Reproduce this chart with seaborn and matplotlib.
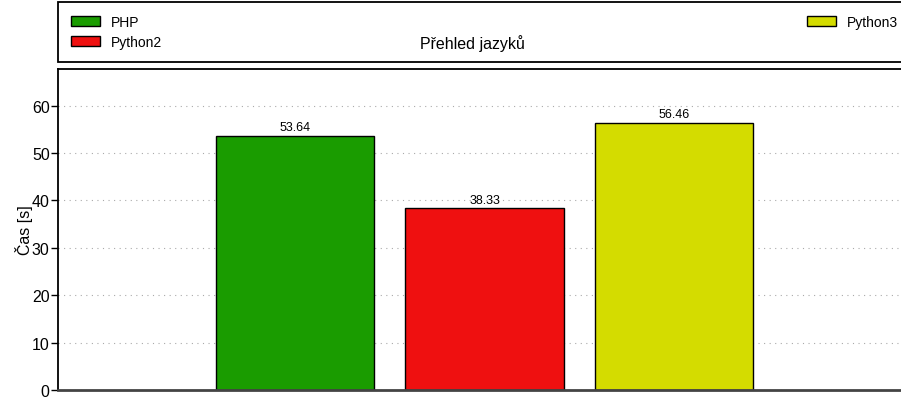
import matplotlib
matplotlib.use('Agg')
import matplotlib.pyplot as plt
import seaborn as sns

# chart data
langs = ['PHP', 'Python2', 'Python3']
times = [53.64, 38.33, 56.46]
colors = ['#1a9c00', '#ef1010', '#d4dc00']

sns.set_style('white')
plt.rcParams['font.family'] = ['Liberation Sans', 'DejaVu Sans']
plt.rcParams['text.color'] = 'black'
plt.rcParams['axes.labelcolor'] = 'black'
plt.rcParams['ytick.color'] = 'black'

fig = plt.figure(figsize=(9.01, 4.02), dpi=100)
# axes spans past the right edge like the original (cropped) figure
ax = fig.add_axes([58 / 901, 11 / 402, 853 / 901, 321 / 402])

sns.barplot(x=langs, y=times, hue=langs, palette=colors, width=0.835,
            edgecolor='black', linewidth=1.0, saturation=1, legend=False, ax=ax)

for c in ax.containers:
    ax.bar_label(c, fmt='%.2f', padding=2, fontsize=9)

ax.set_xlim(-1.25, 3.25)
ax.set_ylim(0, max(times) * 1.2)
ax.set_yticks(range(0, 70, 10))
ax.tick_params(axis='y', labelsize=11.5, length=5, width=1, direction='out', left=True, pad=1)
ax.set_xticks([])
ax.set_xlabel('')
ax.set_ylabel('Čas [s]', fontsize=11.5)
ax.yaxis.set_label_coords(-0.029, 0.5)
ax.yaxis.grid(True, linestyle=(0, (1, 4)), color='#aaaaaa', linewidth=0.8)
ax.set_axisbelow(True)
for s in ax.spines.values():
    s.set_color('black')
    s.set_linewidth(1.3)
ax.spines['bottom'].set_color('#444444')
ax.spines['bottom'].set_linewidth(2)

# legend box above the axes, expanded over the full width
handles = list(ax.patches)
leg = ax.legend(handles, langs, ncol=2, mode='expand', loc='lower left',
                bbox_to_anchor=(0, 1.022, 1, 0.187), borderaxespad=0,
                frameon=True, fancybox=False, framealpha=1, fontsize=10,
                handlelength=2.1, handleheight=0.75, handletextpad=0.75,
                borderpad=0.94, labelspacing=0.44)
leg.get_frame().set_edgecolor('black')
leg.get_frame().set_linewidth(1.3)

t = fig.text(472 / 901, 1 - 44 / 402, 'Přehled jazyků', ha='center', va='center',
             fontsize=11.5, color='black')
t.set_zorder(10)

fig.savefig('out.png', dpi=100)
